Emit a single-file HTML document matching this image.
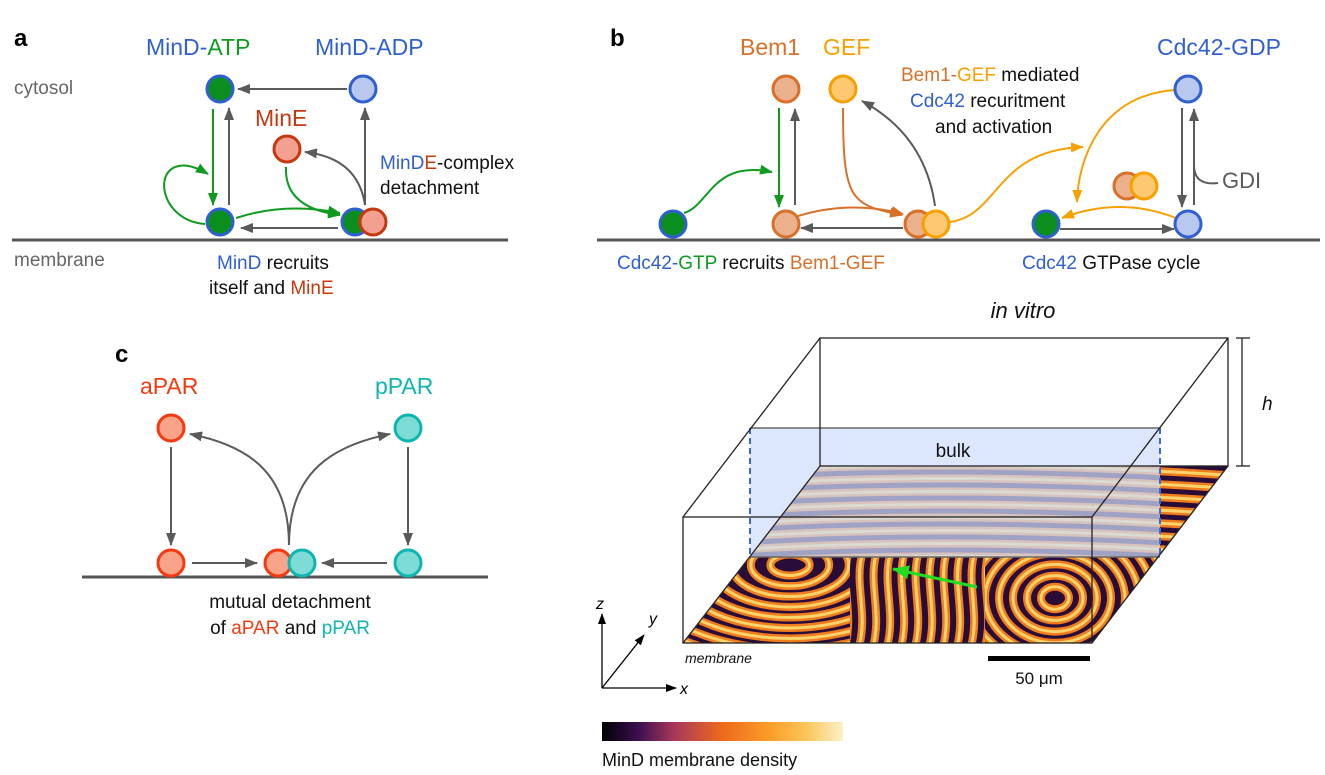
<!DOCTYPE html>
<html><head><meta charset="utf-8"><style>
html,body{margin:0;padding:0;background:#fff;}
svg{display:block;font-family:"Liberation Sans",sans-serif;}
</style></head><body>
<svg id="fig" width="1325" height="775" viewBox="0 0 1325 775" xmlns="http://www.w3.org/2000/svg">
<defs>
<marker id="mg" markerWidth="14" markerHeight="10" refX="12" refY="5" orient="auto" markerUnits="userSpaceOnUse"><path d="M0,0 L13,5 L0,10 Z" fill="#5a5a5a"/></marker>
<marker id="mgr" markerWidth="14" markerHeight="10" refX="12" refY="5" orient="auto" markerUnits="userSpaceOnUse"><path d="M0,0 L13,5 L0,10 Z" fill="#0f9a20"/></marker>
<marker id="mo" markerWidth="14" markerHeight="10" refX="12" refY="5" orient="auto" markerUnits="userSpaceOnUse"><path d="M0,0 L13,5 L0,10 Z" fill="#f7a000"/></marker>
<marker id="mdo" markerWidth="14" markerHeight="10" refX="12" refY="5" orient="auto" markerUnits="userSpaceOnUse"><path d="M0,0 L13,5 L0,10 Z" fill="#d9702a"/></marker>
<marker id="mk" markerWidth="12" markerHeight="8" refX="10" refY="4" orient="auto" markerUnits="userSpaceOnUse"><path d="M0,0 L11,4 L0,8 Z" fill="#000"/></marker>
<marker id="mlg" markerWidth="18" markerHeight="14" refX="16" refY="7" orient="auto" markerUnits="userSpaceOnUse"><path d="M0,0 L17,7 L0,14 Z" fill="#22dd22"/></marker>
<linearGradient id="inferno" x1="0" x2="1" y1="0" y2="0">
<stop offset="0" stop-color="#000004"/><stop offset="0.15" stop-color="#3b0f4f"/><stop offset="0.3" stop-color="#a8385a"/><stop offset="0.5" stop-color="#ee6a1c"/><stop offset="0.7" stop-color="#fb9e2a"/><stop offset="0.85" stop-color="#fbc65a"/><stop offset="1" stop-color="#fcf0c8"/>
</linearGradient>
<clipPath id="memclip"><polygon points="683,643 820,466 1228,466 1092,643"/></clipPath>
<clipPath id="cUp"><rect x="680" y="460" width="560" height="97"/><rect x="1160" y="460" width="80" height="190"/></clipPath>
<clipPath id="cLeft"><rect x="680" y="557" width="170" height="90"/></clipPath>
<clipPath id="cMid"><rect x="850" y="557" width="135" height="90"/></clipPath>
<clipPath id="cRight"><rect x="985" y="557" width="175" height="90"/></clipPath>
</defs>

<!-- Panel a -->
<g>
<text x="14" y="46" font-size="24" font-weight="bold">a</text>
<text x="146" y="55" font-size="23"><tspan fill="#2f5fd0">MinD-</tspan><tspan fill="#0f9a20">ATP</tspan></text>
<text x="315" y="55" font-size="23" fill="#2f5fd0">MinD-ADP</text>
<text x="14" y="94" font-size="19" fill="#666">cytosol</text>
<text x="255" y="126" font-size="23" fill="#c8380f">MinE</text>
<text x="380" y="169" font-size="19"><tspan fill="#2f5fd0">MinD</tspan><tspan fill="#c8380f">E</tspan><tspan fill="#111">-complex</tspan></text>
<text x="380" y="194" font-size="19" fill="#111">detachment</text>
<text x="14" y="266" font-size="19" fill="#666">membrane</text>
<text x="217" y="269" font-size="19"><tspan fill="#2f5fd0">MinD</tspan><tspan fill="#111"> recruits</tspan></text>
<text x="209" y="294" font-size="19"><tspan fill="#111">itself and </tspan><tspan fill="#c8380f">MinE</tspan></text>
<line x1="12" y1="240" x2="508" y2="240" stroke="#555" stroke-width="3"/>
<g fill="none" stroke-width="2">
<line x1="347" y1="89" x2="238" y2="89" stroke="#5a5a5a" marker-end="url(#mg)"/>
<line x1="213" y1="109" x2="213" y2="205" stroke="#0f9a20" marker-end="url(#mgr)"/>
<line x1="229" y1="205" x2="229" y2="108" stroke="#5a5a5a" marker-end="url(#mg)"/>
<line x1="365" y1="205" x2="365" y2="108" stroke="#5a5a5a" marker-end="url(#mg)"/>
<path d="M365,205 Q358,158 305,152" stroke="#5a5a5a" marker-end="url(#mg)"/>
<path d="M286,167 Q284,208 340,215" stroke="#0f9a20" marker-end="url(#mgr)"/>
<path d="M236,218 Q285,202 340,213" stroke="#0f9a20" marker-end="url(#mgr)"/>
<line x1="338" y1="228" x2="241" y2="228" stroke="#5a5a5a" marker-end="url(#mg)"/>
<path d="M205,224 C150,220 150,140 208,174" stroke="#0f9a20" marker-end="url(#mgr)"/>
</g>
<g stroke-width="3">
<circle cx="220" cy="89" r="13" fill="#0a8f1e" stroke="#2f5fd0"/>
<circle cx="363" cy="89" r="13" fill="#b9c8ee" stroke="#2f5fd0"/>
<circle cx="287" cy="149" r="13" fill="#f2a090" stroke="#c8380f"/>
<circle cx="220" cy="222" r="13" fill="#0a8f1e" stroke="#2f5fd0"/>
<circle cx="355" cy="222" r="13" fill="#0a8f1e" stroke="#2f5fd0"/>
<circle cx="373" cy="222" r="13" fill="#f2a090" stroke="#c8380f"/>
</g>
</g>

<!-- Panel b -->
<g>
<text x="610" y="46" font-size="24" font-weight="bold">b</text>
<text x="740" y="55" font-size="23" fill="#d9702a">Bem1</text>
<text x="823" y="55" font-size="23" fill="#f7a000">GEF</text>
<text x="1157" y="55" font-size="23" fill="#2f5fd0">Cdc42-GDP</text>
<text x="901" y="81" font-size="19"><tspan fill="#d9702a">Bem1-</tspan><tspan fill="#f7a000">GEF</tspan><tspan fill="#111"> mediated</tspan></text>
<text x="910" y="107" font-size="19"><tspan fill="#2f5fd0">Cdc42</tspan><tspan fill="#111"> recuritment</tspan></text>
<text x="935" y="133" font-size="19" fill="#111">and activation</text>
<text x="1222" y="188" font-size="22" fill="#5a5a5a">GDI</text>
<text x="617" y="269" font-size="19"><tspan fill="#2f5fd0">Cdc42-</tspan><tspan fill="#0f9a20">GTP</tspan><tspan fill="#111"> recruits </tspan><tspan fill="#d9702a">Bem1-GEF</tspan></text>
<text x="1022" y="269" font-size="19"><tspan fill="#2f5fd0">Cdc42</tspan><tspan fill="#111"> GTPase cycle</tspan></text>
<line x1="597" y1="240" x2="1320" y2="240" stroke="#555" stroke-width="3"/>
<g fill="none" stroke-width="2">
<path d="M684,213 C710,205 712,160 772,172" stroke="#0f9a20" marker-end="url(#mgr)"/>
<line x1="779" y1="108" x2="779" y2="207" stroke="#0f9a20" marker-end="url(#mgr)"/>
<line x1="795" y1="205" x2="795" y2="109" stroke="#5a5a5a" marker-end="url(#mg)"/>
<path d="M843,108 C843,200 850,205 902,215" stroke="#d9702a" marker-end="url(#mdo)"/>
<path d="M798,216 Q850,200 903,214" stroke="#d9702a" marker-end="url(#mdo)"/>
<line x1="903" y1="228" x2="801" y2="228" stroke="#5a5a5a" marker-end="url(#mg)"/>
<path d="M935,206 Q925,135 862,101" stroke="#5a5a5a" marker-end="url(#mg)"/>
<path d="M950,222 C1000,215 995,150 1083,147" stroke="#f7a000" marker-end="url(#mo)"/>
<path d="M1175,90 C1100,95 1078,160 1077,202" stroke="#f7a000" marker-end="url(#mo)"/>
<path d="M1176,218 Q1120,196 1062,218" stroke="#f7a000" marker-end="url(#mo)"/>
<line x1="1060" y1="229" x2="1174" y2="229" stroke="#5a5a5a" marker-end="url(#mg)"/>
<line x1="1182" y1="108" x2="1182" y2="207" stroke="#5a5a5a" marker-end="url(#mg)"/>
<line x1="1194" y1="205" x2="1194" y2="109" stroke="#5a5a5a" marker-end="url(#mg)"/>
<path d="M1194,165 Q1194,186 1218,183" stroke="#5a5a5a"/>
</g>
<g stroke-width="3">
<circle cx="673" cy="224" r="13" fill="#0a8f1e" stroke="#2f5fd0"/>
<circle cx="786" cy="224" r="13" fill="#ebb08c" stroke="#d9702a"/>
<circle cx="918" cy="224" r="13" fill="#ebb08c" stroke="#d9702a"/>
<circle cx="936" cy="224" r="13" fill="#fdc870" stroke="#f7a000"/>
<circle cx="1046" cy="224" r="13" fill="#0a8f1e" stroke="#2f5fd0"/>
<circle cx="1188" cy="224" r="13" fill="#b9c8ee" stroke="#2f5fd0"/>
<circle cx="786" cy="89" r="13" fill="#ebb08c" stroke="#d9702a"/>
<circle cx="843" cy="89" r="13" fill="#fdc870" stroke="#f7a000"/>
<circle cx="1188" cy="89" r="13" fill="#b9c8ee" stroke="#2f5fd0"/>
<circle cx="1127" cy="186" r="13" fill="#ebb08c" stroke="#d9702a"/>
<circle cx="1144" cy="186" r="13" fill="#fdc870" stroke="#f7a000"/>
</g>
</g>

<!-- Panel c -->
<g>
<text x="115" y="362" font-size="24" font-weight="bold">c</text>
<text x="140" y="394" font-size="23" fill="#f53a10">aPAR</text>
<text x="375" y="394" font-size="23" fill="#10b5b0">pPAR</text>
<text x="290" y="608" font-size="19" fill="#111" text-anchor="middle">mutual detachment</text>
<text x="290" y="634" font-size="19" text-anchor="middle"><tspan fill="#111">of </tspan><tspan fill="#f53a10">aPAR</tspan><tspan fill="#111"> and </tspan><tspan fill="#10b5b0">pPAR</tspan></text>
<line x1="82" y1="577" x2="488" y2="577" stroke="#555" stroke-width="3"/>
<g fill="none" stroke-width="2" stroke="#5a5a5a">
<line x1="171" y1="447" x2="171" y2="545" marker-end="url(#mg)"/>
<line x1="408" y1="447" x2="408" y2="545" marker-end="url(#mg)"/>
<line x1="192" y1="563" x2="257" y2="563" marker-end="url(#mg)"/>
<line x1="387" y1="563" x2="322" y2="563" marker-end="url(#mg)"/>
<path d="M289,545 C289,470 245,445 190,434" marker-end="url(#mg)"/>
<path d="M289,545 C289,470 335,445 390,434" marker-end="url(#mg)"/>
</g>
<g stroke-width="3">
<circle cx="171" cy="428" r="13" fill="#f9a488" stroke="#f53a10"/>
<circle cx="408" cy="428" r="13" fill="#7ddcd6" stroke="#10b5b0"/>
<circle cx="171" cy="563" r="13" fill="#f9a488" stroke="#f53a10"/>
<circle cx="278" cy="563" r="13" fill="#f9a488" stroke="#f53a10"/>
<circle cx="302" cy="563" r="13" fill="#7ddcd6" stroke="#10b5b0"/>
<circle cx="408" cy="563" r="13" fill="#7ddcd6" stroke="#10b5b0"/>
</g>
</g>

<!-- In vitro panel -->
<g>
<text x="1023" y="318" font-size="22" font-style="italic" fill="#111" text-anchor="middle">in vitro</text>
<g clip-path="url(#memclip)">
<rect x="680" y="460" width="560" height="190" fill="#2a0c38"/>
<g id="sUp" clip-path="url(#cUp)" fill="none"></g>
<g id="sLeft" clip-path="url(#cLeft)" fill="none"></g>
<g id="sMid" clip-path="url(#cMid)" fill="none"></g>
<g id="sRight" clip-path="url(#cRight)" fill="none"></g>
</g>
<rect x="750" y="428" width="410" height="129" fill="#cfdcfb" opacity="0.72"/>
<line x1="750" y1="428" x2="750" y2="557" stroke="#3a6ad8" stroke-width="2" stroke-dasharray="6,4"/>
<line x1="1160" y1="428" x2="1160" y2="557" stroke="#3a6ad8" stroke-width="2" stroke-dasharray="6,4"/>
<line x1="750" y1="428" x2="1160" y2="428" stroke="#666" stroke-width="1.5"/>
<line x1="750" y1="557" x2="1160" y2="557" stroke="#666" stroke-width="1.5"/>
<text x="953" y="457" font-size="19" fill="#111" text-anchor="middle">bulk</text>
<g fill="none" stroke="#222" stroke-width="1.3">
<rect x="820" y="338" width="408" height="128"/>
<rect x="683" y="517" width="409" height="126"/>
<line x1="683" y1="517" x2="820" y2="338"/>
<line x1="1092" y1="517" x2="1228" y2="338"/>
<line x1="683" y1="643" x2="820" y2="466"/>
<line x1="1092" y1="643" x2="1228" y2="466"/>
</g>
<line x1="977" y1="587" x2="893" y2="569" stroke="#22dd22" stroke-width="3" marker-end="url(#mlg)"/>
<g stroke="#222" stroke-width="1.3">
<line x1="1242" y1="338" x2="1242" y2="466"/><line x1="1236" y1="338" x2="1250" y2="338"/><line x1="1236" y1="466" x2="1250" y2="466"/>
</g>
<text x="1262" y="410" font-size="19" font-style="italic" fill="#111">h</text>
<text x="685" y="663" font-size="14" font-style="italic" fill="#111">membrane</text>
<rect x="988" y="656" width="102" height="5" fill="#000"/>
<text x="1039" y="684" font-size="17" fill="#111" text-anchor="middle">50 μm</text>
<g stroke="#000" stroke-width="1.3" fill="none">
<line x1="602" y1="688" x2="602" y2="614" marker-end="url(#mk)"/>
<line x1="602" y1="688" x2="676" y2="688" marker-end="url(#mk)"/>
<line x1="602" y1="688" x2="644" y2="635" marker-end="url(#mk)"/>
</g>
<text x="596" y="609" font-size="16" font-style="italic">z</text>
<text x="649" y="624" font-size="16" font-style="italic">y</text>
<text x="680" y="694" font-size="16" font-style="italic">x</text>
<rect x="602" y="722" width="241" height="19" fill="url(#inferno)"/>
<text x="602" y="766" font-size="18" fill="#111">MinD membrane density</text>
</g>
</svg>
<script>
(function(){
var NS='http://www.w3.org/2000/svg';
function add(id,d){
  var g=document.getElementById(id);
  var p=document.createElementNS(NS,'path');
  p.setAttribute('d',d);p.setAttribute('stroke','#ef7d1e');p.setAttribute('stroke-width','8');
  
  
  g.appendChild(p);
  var q=document.createElementNS(NS,'path');
  q.setAttribute('d',d);q.setAttribute('stroke','#fcd36a');q.setAttribute('stroke-width','3');
  
  
  g.appendChild(q);
}
var i;
for(i=-2;i<9;i++){var y=468+i*13;add('sUp','M700,'+(y+6)+' Q950,'+(y-12)+' 1240,'+(y+8));}
for(i=1;i<10;i++){var r=i*14;add('sLeft','M'+(790-r*1.4)+',565 a'+(r*1.4)+','+(r*0.75)+' 0 1,0 '+(2.8*r)+',0 a'+(r*1.4)+','+(r*0.75)+' 0 1,0 '+(-2.8*r)+',0');}
for(i=0;i<11;i++){var x=848+i*14;add('sMid','M'+x+',555 C'+(x-8)+',585 '+(x+7)+',615 '+(x-4)+',650');}
for(i=1;i<10;i++){var r2=i*14;add('sRight','M'+(1055-r2)+',598 a'+r2+','+(r2*0.8)+' 0 1,0 '+(2*r2)+',0 a'+r2+','+(r2*0.8)+' 0 1,0 '+(-2*r2)+',0');}
})();
</script>
</body></html>
